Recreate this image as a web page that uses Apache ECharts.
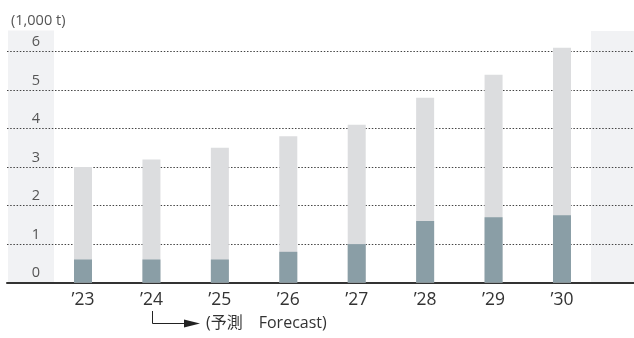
<!DOCTYPE html>
<html>
<head>
<meta charset="utf-8">
<script src="https://cdn.jsdelivr.net/npm/echarts@6/dist/echarts.min.js"></script>
<style>
  html, body { margin: 0; padding: 0; background: #fff; }
  #chart { width: 634px; height: 338px; }
</style>
</head>
<body>
<div id="chart"></div>
<script>
// Fiscal years shown along the bottom axis
const years = ["\u201923", "\u201924", "\u201925", "\u201926", "\u201927", "\u201928", "\u201929", "\u201930"];
// Total volume per year (1,000 t)
const totalValues = [3.0, 3.2, 3.5, 3.8, 4.1, 4.8, 5.4, 6.1];
// Highlighted portion of each year's volume (1,000 t)
const partValues = [0.6, 0.6, 0.6, 0.8, 1.0, 1.6, 1.7, 1.75];
// Value axis ticks
const yTicks = [0, 1, 2, 3, 4, 5, 6];

const FONT = "'Open Sans', 'Noto Sans CJK JP', sans-serif";
const yMin = yTicks[0];
const yMax = yTicks[yTicks.length - 1];
const yStep = yTicks[1] - yTicks[0];

const chart = echarts.init(document.getElementById('chart'), null, { renderer: 'canvas' });

const gridTop = 51.6;
const gridBottom = 338 - 282.6;

chart.setOption({
  animation: false,
  backgroundColor: '#ffffff',
  textStyle: { fontFamily: FONT },
  title: {
    text: '(1,000 t)',
    left: 6,
    top: 9,
    textStyle: { fontSize: 14.5, fontWeight: 'normal', color: '#555', fontFamily: FONT }
  },
  grid: [
    // full-width frame carrying the dotted guides and the baseline
    { left: 7, right: 0, top: gridTop, bottom: gridBottom, containLabel: false },
    // plotting area for the bars
    { left: 48.8, width: 547.4, top: gridTop, bottom: gridBottom, containLabel: false }
  ],
  xAxis: [
    {
      gridIndex: 0, type: 'category', data: [''],
      axisLine: { show: true, lineStyle: { color: '#333', width: 2 } },
      axisTick: { show: false }, axisLabel: { show: false }, splitLine: { show: false }
    },
    {
      gridIndex: 1, type: 'category', data: years,
      axisLine: { show: false }, axisTick: { show: false },
      axisLabel: { color: '#333', fontSize: 17.5, margin: 9, fontFamily: FONT }
    }
  ],
  yAxis: [
    {
      gridIndex: 0, type: 'value', min: yMin, max: yMax, interval: yStep,
      axisLine: { show: false }, axisTick: { show: false },
      axisLabel: {
        inside: true, margin: 29, align: 'center', verticalAlign: 'bottom',
        padding: [0, 0, 2, 0], color: '#555', fontSize: 14.5, fontFamily: FONT,
        showMinLabel: true, showMaxLabel: true
      },
      splitLine: { show: true, lineStyle: { color: '#444', width: 1, type: [1.5, 1.7] } }
    },
    {
      gridIndex: 1, type: 'value', min: yMin, max: yMax, interval: yStep,
      show: false, splitLine: { show: false }
    }
  ],
  graphic: [
    // shaded side panels
    { type: 'rect', z: -10, silent: true, shape: { x: 8, y: 30.5, width: 46, height: 251.5 }, style: { fill: '#f1f2f4' } },
    { type: 'rect', z: -10, silent: true, shape: { x: 591, y: 31, width: 43, height: 251 }, style: { fill: '#f1f2f4' } },
    // forecast marker below '24
    { type: 'polyline', silent: true, shape: { points: [[152.5, 311], [152.5, 323.5], [186, 323.5]] }, style: { stroke: '#222', lineWidth: 1, fill: null } },
    { type: 'polygon', silent: true, shape: { points: [[184, 319.5], [200, 323.5], [184, 327.5]] }, style: { fill: '#222' } },
    { type: 'text', silent: true, x: 206, y: 323, style: { text: '(予測\u3000Forecast)', fill: '#333', font: '16px ' + FONT, verticalAlign: 'middle', align: 'left' } }
  ],
  series: [
    {
      name: 'total', type: 'bar', xAxisIndex: 1, yAxisIndex: 1, clip: false,
      data: totalValues, barWidth: 18, barGap: '-100%', z: 2,
      itemStyle: { color: '#dcdddf' }
    },
    {
      name: 'part', type: 'bar', xAxisIndex: 1, yAxisIndex: 1, clip: false,
      data: partValues, barWidth: 18, barGap: '-100%', z: 3,
      itemStyle: { color: '#8a9ea6' }
    }
  ]
});
</script>
</body>
</html>
